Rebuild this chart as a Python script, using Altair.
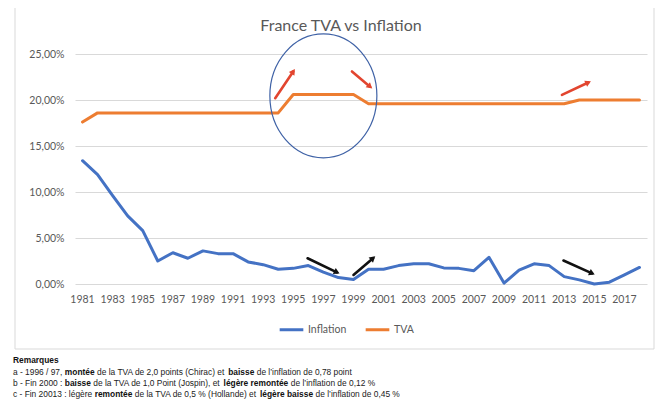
import math
import altair as alt
import pandas as pd

# ---------------- data ----------------
years = list(range(1981, 2019))
inflation = [13.4, 11.9, 9.6, 7.4, 5.8, 2.5, 3.4, 2.8, 3.6, 3.3,
             3.3, 2.4, 2.1, 1.6, 1.7, 2.0, 1.3, 0.7, 0.5, 1.6,
             1.6, 2.0, 2.2, 2.2, 1.75, 1.7, 1.45, 2.9, 0.1, 1.5,
             2.2, 2.0, 0.8, 0.45, 0.0, 0.2, 1.0, 1.8]
tva = [17.6, 18.6, 18.6, 18.6, 18.6, 18.6, 18.6, 18.6, 18.6, 18.6,
       18.6, 18.6, 18.6, 18.6, 20.6, 20.6, 20.6, 20.6, 20.6, 19.6,
       19.6, 19.6, 19.6, 19.6, 19.6, 19.6, 19.6, 19.6, 19.6, 19.6,
       19.6, 19.6, 19.6, 20.0, 20.0, 20.0, 20.0, 20.0]
series_names = ["Inflation", "TVA"]
series_colors = ["#4472C4", "#ED7D31"]
x_tick_values = list(range(1981, 2018, 2))
y_tick_values = [0, 5, 10, 15, 20, 25]

title_text = "France TVA vs Inflation"

# annotation arrows (tail year, tail %, tip year, tip %)
red_arrows = [(1993.8, 20.2, 1995.0, 23.1),
              (1998.9, 23.1, 2000.1, 21.45),
              (2012.85, 20.55, 2014.6, 21.9)]
black_arrows = [(1995.95, 2.8, 1997.9, 1.27),
                (1999.0, 0.98, 2000.3, 2.8),
                (2012.95, 2.55, 2014.85, 1.16)]
ellipse_center = (1997.0, 20.45)

remark_lines = [
    [("Remarques", True)],
    [("a - 1996 / 97, ", False), ("montée", True),
     (" de la TVA de 2,0 points (Chirac) et ", False), ("baisse", True),
     (" de l’inflation de 0,78 point", False)],
    [("b - Fin 2000 : ", False), ("baisse", True),
     (" de la TVA de 1,0 Point (Jospin), et ", False), ("légère remontée", True),
     (" de l’inflation de 0,12 %", False)],
    [("c - Fin 20013 : légère ", False), ("remontée", True),
     (" de la TVA de 0,5 % (Hollande) et ", False), ("légère baisse", True),
     (" de l’inflation de 0,45 %", False)],
]

# ---------------- layout helpers ----------------
W, H = 572, 230
X0, X1 = 1980.5, 2018.5
Y0, Y1 = 0, 25
PX_PER_YEAR = W / (X1 - X0)
PX_PER_PCT = H / (Y1 - Y0)

REG = {' ': 278, '%': 889, "'": 191, '’': 222, '(': 333, ')': 333, ',': 278, '-': 333,
       '.': 278, '/': 278, ':': 278,
       'A': 667, 'B': 667, 'C': 722, 'D': 722, 'E': 667, 'F': 611, 'H': 722, 'I': 278,
       'J': 500, 'P': 667, 'R': 722, 'T': 611, 'V': 667,
       'a': 556, 'b': 556, 'c': 500, 'd': 556, 'e': 556, 'f': 278, 'g': 556, 'h': 556,
       'i': 222, 'j': 222, 'k': 500, 'l': 222, 'm': 833, 'n': 556, 'o': 556, 'p': 556,
       'q': 556, 'r': 333, 's': 500, 't': 278, 'u': 556, 'v': 500, 'w': 722, 'x': 500,
       'y': 500, 'z': 500, 'é': 556, 'è': 556}
BOLD = dict(REG)
BOLD.update({'b': 611, 'c': 556, 'd': 611, 'f': 333, 'g': 611, 'h': 611, 'i': 278,
             'j': 278, 'k': 556, 'l': 278, 'm': 889, 'n': 611, 'o': 611, 'p': 611,
             'q': 611, 'r': 389, 's': 556, 't': 333, 'u': 611, 'v': 556, 'w': 778,
             'x': 556, 'y': 556, '(': 333, ')': 333, ':': 333, "'": 238})

REMARK_SIZE = 8.4


def text_width(s, bold):
    table = BOLD if bold else REG
    return sum(table.get(ch, 556) for ch in s) * REMARK_SIZE / 1000.0


rows = []
line_y = [363 - 54, 374.5 - 54, 386 - 54, 397 - 54]
for li, segs in enumerate(remark_lines):
    x = 13 - 75
    for txt, bold in segs:
        lead = len(txt) - len(txt.lstrip(" "))
        core = txt.strip(" ")
        x_start = x + text_width(" " * lead, bold)
        rows.append({"px": x_start, "py": line_y[li], "t": core, "bold": bold})
        x += text_width(txt, bold)
remarks = pd.DataFrame(rows)

df = pd.DataFrame({
    "year": years * 2,
    "value": inflation + tva,
    "series": ["Inflation"] * len(years) + ["TVA"] * len(years),
})
xlab = pd.DataFrame({"year": x_tick_values, "lab": [str(v) for v in x_tick_values]})


def arrow_frames(arrows):
    segs, heads = [], []
    for (x1, y1, x2, y2) in arrows:
        dx = (x2 - x1) * PX_PER_YEAR
        up = (y2 - y1) * PX_PER_PCT
        ang = math.degrees(math.atan2(dx, up)) % 360
        segs.append({"x": x1, "y": y1, "x2": x2, "y2": y2})
        heads.append({"x": x2, "y": y2, "angle": ang})
    return pd.DataFrame(segs), pd.DataFrame(heads)


red_seg, red_head = arrow_frames(red_arrows)
blk_seg, blk_head = arrow_frames(black_arrows)

xscale = alt.Scale(domain=[X0, X1], nice=False, zero=False)
yscale = alt.Scale(domain=[Y0, Y1], nice=False)

FONT = "Lato"
GREY = "#595959"

border = alt.Chart(pd.DataFrame({"d": [0]})).mark_rect(
    fillOpacity=0, stroke="#d9d9d9", strokeWidth=1
).encode(x=alt.value(15 - 75), x2=alt.value(654 - 75), y=alt.value(-60), y2=alt.value(349 - 54))

lines = alt.Chart(df).mark_line(strokeWidth=3, strokeJoin="round", strokeCap="round").encode(
    x=alt.X("year:Q", scale=xscale, title=None,
            axis=alt.Axis(values=x_tick_values, labels=False, grid=False)),
    y=alt.Y("value:Q", scale=yscale, title=None,
            axis=alt.Axis(values=y_tick_values, labelOverlap=False,
                          labelExpr="replace(format(datum.value, '.2f'), '.', ',') + '%'")),
    color=alt.Color("series:N", scale=alt.Scale(domain=series_names, range=series_colors),
                    legend=alt.Legend(title=None, orient="none", direction="horizontal",
                                      legendX=203, legendY=262, symbolType="stroke",
                                      symbolStrokeWidth=3, symbolSize=560,
                                      labelFont=FONT, labelFontSize=10.5, labelColor=GREY,
                                      labelOffset=3, columnPadding=12)),
)

xlabels = alt.Chart(xlab).mark_text(
    font=FONT, fontSize=10.5, color=GREY, align="center", baseline="middle"
).encode(x=alt.X("year:Q", scale=xscale, title=None), y=alt.value(246), text="lab:N")

ell_path = "M-0.863,0A0.863,1 0 1,1 0.863,0A0.863,1 0 1,1 -0.863,0Z"
ellipse = alt.Chart(pd.DataFrame({"x": [ellipse_center[0]], "y": [ellipse_center[1]]})).mark_point(
    shape=ell_path, size=124 * 124, filled=False, stroke="#3f62a6", strokeWidth=1.2, opacity=1
).encode(x=alt.X("x:Q", scale=xscale, title=None), y=alt.Y("y:Q", scale=yscale, title=None))


def arrow_layers(seg, head, color):
    r = alt.Chart(seg).mark_rule(color=color, strokeWidth=2.6, strokeCap="round").encode(
        x=alt.X("x:Q", scale=xscale, title=None), y=alt.Y("y:Q", scale=yscale, title=None),
        x2="x2:Q", y2="y2:Q")
    h = alt.Chart(head).mark_point(shape="triangle-up", filled=True, size=45, color=color,
                                   opacity=1).encode(
        x=alt.X("x:Q", scale=xscale, title=None), y=alt.Y("y:Q", scale=yscale, title=None),
        angle=alt.Angle("angle:Q", scale=None))
    return [r, h]


title = alt.Chart(pd.DataFrame({"t": [title_text]})).mark_text(
    font=FONT, fontSize=16, color=GREY, align="center", baseline="middle"
).encode(x=alt.value(341 - 75), y=alt.value(26 - 54), text="t:N")

rem_norm = alt.Chart(remarks[~remarks["bold"]]).mark_text(
    font="Liberation Sans", fontSize=REMARK_SIZE, color="#222222", align="left",
    baseline="alphabetic"
).encode(x=alt.X("px:Q", scale=None), y=alt.Y("py:Q", scale=None), text="t:N")
rem_bold = alt.Chart(remarks[remarks["bold"]]).mark_text(
    font="Liberation Sans", fontSize=REMARK_SIZE, fontWeight="bold", color="#111111",
    align="left", baseline="alphabetic"
).encode(x=alt.X("px:Q", scale=None), y=alt.Y("py:Q", scale=None), text="t:N")

chart = alt.layer(
    border, lines, xlabels, ellipse,
    *arrow_layers(red_seg, red_head, "#e2452f"),
    *arrow_layers(blk_seg, blk_head, "#111111"),
    title, rem_norm, rem_bold,
).properties(
    width=W, height=H,
    background="white",
    autosize=alt.AutoSizeParams(type="none"),
    padding={"left": 67, "top": 46, "right": 11, "bottom": 116},
).configure_view(
    strokeWidth=0
).configure_axis(
    ticks=False, domain=False, labelFont=FONT, labelFontSize=10.5, labelColor=GREY,
    gridColor="#d9d9d9"
).configure_axisX(
    grid=False, labels=False
).configure_axisY(
    grid=True, labelPadding=11, labelOverlap=False
)

chart.save("out.html", embed_options={"renderer": "svg", "actions": False})
